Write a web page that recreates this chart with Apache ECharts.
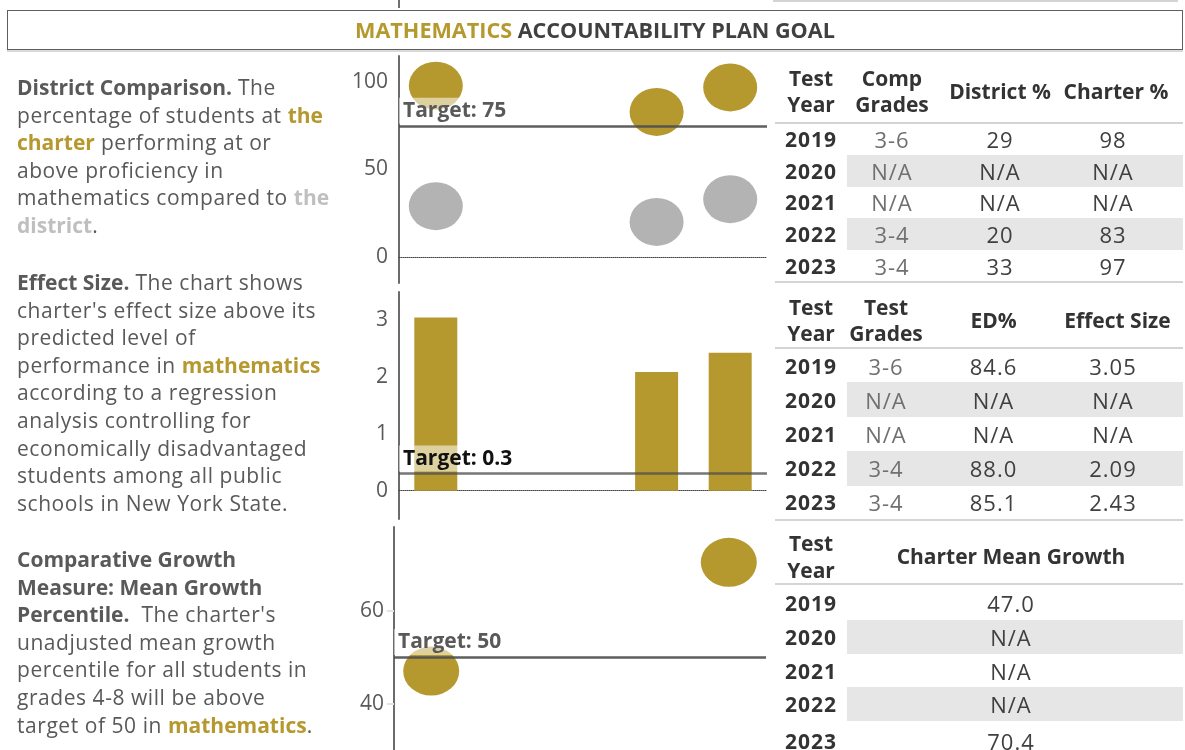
<!DOCTYPE html>
<html>
<head>
<meta charset="utf-8">
<script src="https://cdn.jsdelivr.net/npm/echarts@6/dist/echarts.min.js"></script>
<style>
    body { margin: 0; width: 1185px; height: 750px; overflow: hidden; background: #fff; position: relative;
           font-family: 'Open Sans', sans-serif; }
    #chart { position: absolute; left: 0; top: 0; width: 1185px; height: 750px; }
    .abs { position: absolute; }
    #title { left: 7px; top: 10px; width: 1176px; height: 40px; box-sizing: border-box; border: 1.5px solid #5f5f5f;
             box-shadow: 0 2px 0 #d9d9d9; text-align: center; line-height: 37px; font-size: 21.6px; font-weight: bold;
             color: #404040; background: #fff; }
    .gold { color: #b5992e; font-weight: bold; letter-spacing: 0; }
    .lite { color: #bfbfbf; font-weight: bold; letter-spacing: 0; }
    .para { left: 17px; font-size: 21px; line-height: 27.6px; color: #595959; white-space: nowrap; letter-spacing: 0.55px; }
    .para b { font-weight: bold; letter-spacing: 0; }
    table { position: absolute; left: 775px; width: 408px; border-collapse: collapse; table-layout: fixed;
            font-size: 22px; color: #404040; letter-spacing: 1px; }
    th { font-weight: bold; color: #333; line-height: 26.5px; padding: 0; text-align: center; font-size: 21px;
         letter-spacing: 0; border-bottom: 2px solid #d4d4d4; }
    td { padding: 0; text-align: center; }
    td:first-child { font-weight: bold; color: #333; font-size: 21px; }
    td.grade { color: #707070; }
    tr.shade td:not(:first-child) { background: #e6e6e6; }
    table.bottom tr:last-child td { border-bottom: 2px solid #d4d4d4; }
</style>
</head>
<body>
<div id="chart"></div>

<div class="abs" style="left:773px;top:0;width:405px;height:2px;background:#d4d4d4"></div>
<div class="abs" style="left:398px;top:0;width:2px;height:8px;background:#6f6f6f"></div>

<div id="title" class="abs"><span class="gold">MATHEMATICS</span> ACCOUNTABILITY PLAN GOAL</div>

<div class="abs para" style="top:74px">
<b>District Comparison.</b> The<br>percentage of students at <span class="gold">the</span><br><span class="gold">charter</span> performing at or<br>above proficiency in<br>mathematics compared to <span class="lite">the</span><br><span class="lite">district</span>.
</div>
<div class="abs para" style="top:269px">
<b>Effect Size.</b> The chart shows<br>charter's effect size above its<br>predicted level of<br>performance in <span class="gold">mathematics</span><br>according to a regression<br>analysis controlling for<br>economically disadvantaged<br>students among all public<br>schools in New York State.
</div>
<div class="abs para" style="top:546px">
<b>Comparative Growth</b><br><b>Measure: Mean Growth</b><br><b>Percentile.</b>&nbsp; The charter's<br>unadjusted mean growth<br>percentile for all students in<br>grades 4-8 will be above<br>target of 50 in <span class="gold">mathematics</span>.
</div>

<table id="t1" class="bottom" style="top:60px">
    <colgroup><col style="width:72px"><col style="width:90px"><col style="width:126px"><col style="width:120px"></colgroup>
    <thead><tr style="height:63px"><th>Test<br>Year</th><th>Comp<br>Grades</th><th>District %</th><th style="padding-right:14px">Charter %</th></tr></thead>
    <tbody></tbody>
</table>
<table id="t2" class="bottom" style="top:293px">
    <colgroup><col style="width:72px"><col style="width:78px"><col style="width:137px"><col style="width:121px"></colgroup>
    <thead><tr style="height:55px"><th>Test<br>Year</th><th>Test<br>Grades</th><th>ED%</th><th style="padding-right:10px">Effect Size</th></tr></thead>
    <tbody></tbody>
</table>
<table id="t3" style="top:530px">
    <colgroup><col style="width:72px"><col style="width:336px"></colgroup>
    <thead><tr style="height:53px"><th>Test<br>Year</th><th style="padding-right:8px">Charter Mean Growth</th></tr></thead>
    <tbody></tbody>
</table>

<script>
const years = ['2019', '2020', '2021', '2022', '2023'];
const districtPct = [29, null, null, 20, 33];
const charterPct = [98, null, null, 83, 97];
const compGrades = ['3-6', 'N/A', 'N/A', '3-4', '3-4'];
const testGrades = ['3-6', 'N/A', 'N/A', '3-4', '3-4'];
const edPct = [84.6, null, null, 88.0, 85.1];
const effectSize = [3.05, null, null, 2.09, 2.43];
const meanGrowth = [47.0, null, null, null, 70.4];
const pctTarget = 75;
const effectTarget = 0.3;
const growthTarget = 50;

const GOLD = '#b5992e';
const GREY = '#b3b3b3';
const FONT = "'Open Sans', sans-serif";

function fmt(v, digits) {
    return v == null ? 'N/A' : v.toFixed(digits);
}

// rowHeights: one height per row, the tables do not all have even rows
function fillTable(id, rows, rowHeights) {
    let tbody = document.querySelector('#' + id + ' tbody');
    rows.forEach(function (cells, i) {
        let tr = tbody.insertRow(-1);
        tr.style.height = rowHeights[i] + 'px';
        if (i % 2 === 1) tr.className = 'shade';
        cells.forEach(function (c) {
            let td = tr.insertCell(-1);
            if (typeof c === 'object') {
                td.innerHTML = c.text;
                if (c.cls) td.className = c.cls;
                if (c.style) td.setAttribute('style', c.style);
            } else {
                td.innerHTML = c;
            }
        });
    });
}

fillTable('t1', years.map(function (y, i) {
    return [y, {text: compGrades[i], cls: 'grade'}, fmt(districtPct[i], 0),
        {text: fmt(charterPct[i], 0), style: 'padding-right:20px'}];
}), [31.8, 31.8, 31.8, 31.8, 31.8]);
fillTable('t2', years.map(function (y, i) {
    return [y, {text: testGrades[i], cls: 'grade'}, fmt(edPct[i], 1),
        {text: fmt(effectSize[i], 2), style: 'padding-right:19px'}];
}), [34.4, 34.4, 34.4, 34.4, 34.4]);
fillTable('t3', years.map(function (y, i) {
    return [y, {text: fmt(meanGrowth[i], 1), style: 'padding-right:8px'}];
}), [36, 34, 33, 34, 40]);

function targetLine(value, text, textColor, lineColor) {
    return {
        symbol: 'none',
        silent: true,
        data: [{yAxis: value}],
        lineStyle: {color: lineColor, width: 2.5, type: 'solid'},
        label: {
            position: 'insideStartTop',
            distance: [0, 2],
            formatter: text,
            fontFamily: FONT,
            fontWeight: 'bold',
            fontSize: 21,
            color: textColor,
            backgroundColor: 'rgba(255,255,255,0.55)',
            padding: [0, 6, 0, 4],
            lineHeight: 26
        }
    };
}

function yAxisFor(grid, min, max, labels, margin, ticks) {
    return {
        type: 'value',
        gridIndex: grid,
        min: min,
        max: max,
        splitLine: {show: false},
        axisLine: {show: true, lineStyle: {color: '#6b6b6b', width: 2}},
        axisTick: ticks ? {show: true, length: 7, customValues: labels, lineStyle: {color: '#e3e3e3', width: 2}} : {show: false},
        axisLabel: {customValues: labels, margin: margin, color: '#595959', fontSize: 21, fontFamily: FONT}
    };
}

function xAxisFor(grid, dotted) {
    return {
        type: 'category',
        gridIndex: grid,
        data: years,
        axisLine: {show: dotted, onZero: true, lineStyle: {color: '#404040', width: 1, type: 'dotted'}},
        axisTick: {show: false},
        axisLabel: {show: false}
    };
}

let myChart = echarts.init(document.getElementById('chart'));
let option = {
    animation: false,
    grid: [
        {left: 399, top: 56, width: 368, height: 227},
        {left: 399, top: 292, width: 368, height: 227},
        {left: 394, top: 527, width: 372, height: 223}
    ],
    xAxis: [xAxisFor(0, true), xAxisFor(1, true), xAxisFor(2, false)],
    yAxis: [
        yAxisFor(0, -15, 115, [0, 50, 100], 11, false),
        yAxisFor(1, -0.5, 3.5, [0, 1, 2, 3], 11, false),
        yAxisFor(2, 30, 78, [40, 60], 10, true)
    ],
    series: [
        {
            name: 'District %', type: 'scatter', xAxisIndex: 0, yAxisIndex: 0,
            data: districtPct, symbol: 'circle', symbolSize: [54, 48],
            itemStyle: {color: GREY, opacity: 1}, z: 2
        },
        {
            name: 'Charter %', type: 'scatter', xAxisIndex: 0, yAxisIndex: 0,
            data: charterPct, symbol: 'circle', symbolSize: [54, 48],
            itemStyle: {color: GOLD, opacity: 1}, z: 2
        },
        {
            name: 'pct target', type: 'scatter', xAxisIndex: 0, yAxisIndex: 0, data: [], z: 5,
            markLine: targetLine(pctTarget, 'Target: ' + pctTarget, '#595959', 'rgba(80,80,80,0.92)')
        },
        {
            name: 'Effect Size', type: 'bar', xAxisIndex: 1, yAxisIndex: 1,
            data: effectSize, barWidth: 43, itemStyle: {color: GOLD}, z: 2
        },
        {
            name: 'effect target', type: 'scatter', xAxisIndex: 1, yAxisIndex: 1, data: [], z: 5,
            markLine: targetLine(effectTarget, 'Target: ' + effectTarget, '#111', 'rgba(80,80,80,0.78)')
        },
        {
            name: 'Mean Growth', type: 'scatter', xAxisIndex: 2, yAxisIndex: 2,
            data: meanGrowth, symbol: 'circle', symbolSize: [56, 49],
            itemStyle: {color: GOLD, opacity: 1}, z: 2
        },
        {
            name: 'growth target', type: 'scatter', xAxisIndex: 2, yAxisIndex: 2, data: [], z: 5,
            markLine: targetLine(growthTarget, 'Target: ' + growthTarget, '#595959', 'rgba(80,80,80,0.92)')
        }
    ]
};

if (option && typeof option === 'object') {
    myChart.setOption(option);
}
</script>
</body>
</html>
